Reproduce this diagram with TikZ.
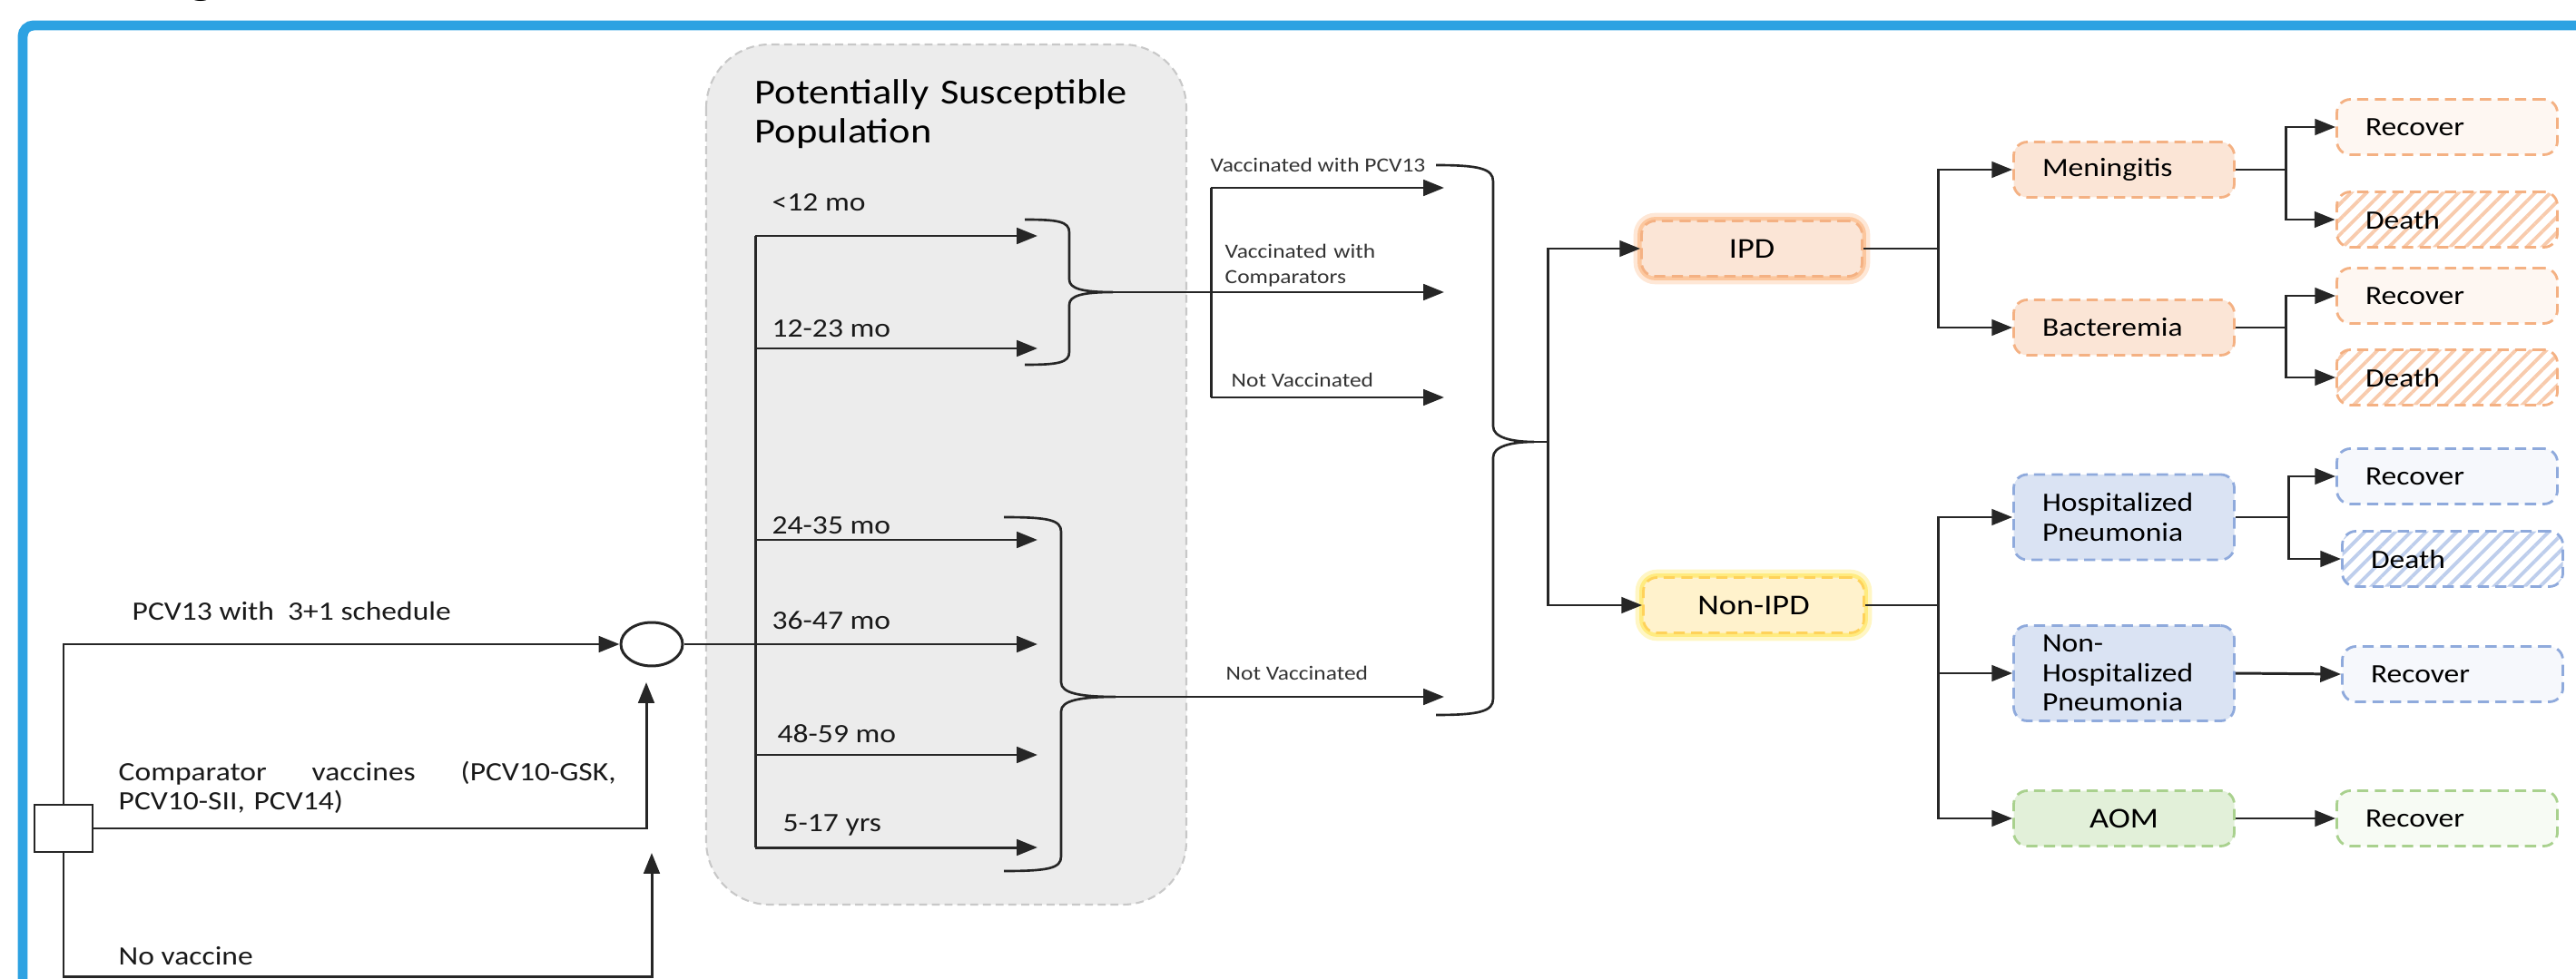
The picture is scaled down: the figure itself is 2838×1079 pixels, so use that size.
\documentclass[tikz,border=0pt]{standalone}
\usepackage{fontspec}
\setmainfont{Carlito}[FakeStretch=1.15]
\usetikzlibrary{arrows.meta,shapes.geometric,patterns.meta}
\definecolor{frameblue}{RGB}{45,162,226}
\definecolor{grayfill}{RGB}{236,236,236}
\definecolor{grayline}{RGB}{200,200,200}
\definecolor{orfill}{RGB}{251,229,214}
\definecolor{orline}{RGB}{244,177,131}
\definecolor{orhatch}{RGB}{248,203,173}
\definecolor{orlight}{RGB}{254,247,242}
\definecolor{orglow}{RGB}{250,160,90}
\definecolor{yefill}{RGB}{255,242,204}
\definecolor{yeline}{RGB}{255,210,90}
\definecolor{yeglow}{RGB}{255,225,60}
\definecolor{blfill}{RGB}{218,227,243}
\definecolor{blline}{RGB}{143,170,220}
\definecolor{blhatch}{RGB}{190,206,236}
\definecolor{bllight}{RGB}{246,248,252}
\definecolor{grfill}{RGB}{226,240,217}
\definecolor{grline}{RGB}{169,209,142}
\definecolor{grlight}{RGB}{247,251,244}
\newcommand\fA{\fontsize{8.3}{9.3}\selectfont}
\newcommand\fT{\fontsize{11}{12.2}\selectfont}
\newcommand\fS{\fontsize{6.3}{7.9}\selectfont}
\newcommand\fB{\fontsize{9}{10.5}\selectfont}
\newcommand\fF{\fontsize{15}{17}\selectfont}
\begin{document}
\begin{tikzpicture}[x=0.1mm,y=-0.1mm,
  ln/.style={draw=black!85, line width=0.85pt},
  arr/.style={ln, -{Triangle[length=6.5pt,width=5pt]}},
  lbl/.style={anchor=base west, inner sep=0pt, font=\fA, text=black!90},
  sml/.style={anchor=base west, inner sep=0pt, font=\fS, text=black!80},
  box/.style={draw, rounded corners=1.5mm, dash pattern=on 3.5pt off 2pt, line width=0.8pt,
    minimum width=24.3mm, minimum height=6.1mm, inner sep=0pt, font=\fA},
  lbox/.style={box, text width=18mm, align=left},
  cbox/.style={box, align=center, font=\fB},
  orbox/.style={fill=orfill, draw=orline},
  blbox/.style={fill=blfill, draw=blline},
  grbox/.style={fill=grfill, draw=grline},
  orglowbox/.style={fill=orfill, draw=orline,
    preaction={draw=orglow, solid, line width=5pt, opacity=0.25},
    preaction={draw=orglow, solid, line width=2.5pt, opacity=0.45}},
  yeglowbox/.style={fill=yefill, draw=yeline,
    preaction={draw=yeglow, solid, line width=5pt, opacity=0.3},
    preaction={draw=yeglow, solid, line width=2.5pt, opacity=0.5}},
  orrec/.style={lbox, fill=orlight, draw=orline},
  ordeath/.style={lbox, draw=orline, pattern={Lines[angle=45,distance=3.4pt,line width=1.1pt]}, pattern color=orhatch},
  blrec/.style={lbox, fill=bllight, draw=blline},
  bldeath/.style={lbox, draw=blline, pattern={Lines[angle=45,distance=3.4pt,line width=1.1pt]}, pattern color=blhatch},
  grrec/.style={lbox, fill=grlight, draw=grline}
]
\useasboundingbox (0,0) rectangle (2838,1079);
\clip (0,0) rectangle (2838,1079);

% partial caption text cut at top
\node[anchor=base west, inner sep=0pt, font=\fF] (cap) at (147,-7) {(Figure 1)};

% blue frame
\draw[frameblue, line width=3.1pt, rounded corners=1.2mm] (25,1300) -- (25,28) -- (3100,28);

% gray population panel
\draw[fill=grayfill, draw=grayline, dash pattern=on 2.5pt off 1.5pt, line width=0.6pt, rounded corners=7mm]
  (778,49) rectangle (1307,997);
\node[anchor=base west, inner sep=0pt, font=\fT, text width=60mm, align=left] (title) at (831,115)
  {Potentially Susceptible\\Population};

% decision and chance nodes
\node[draw=black!85, line width=0.7pt, minimum width=6.4mm, minimum height=5.2mm, inner sep=0pt] (dec) at (70,913) {};
\node[draw=black!85, line width=0.85pt, ellipse, minimum width=6.8mm, minimum height=4.8mm, inner sep=0pt] (chance) at (718,710) {};

\coordinate (cin) at (712,752);
\coordinate (nvc) at (718,1076);
\coordinate (nvtop) at (718,940);

\draw[arr] (dec.north) |- (chance.west);
\draw[arr] (dec.east) -| (cin);
\draw[arr] (dec.south) |- (nvc) -- (nvtop);

\node[lbl] (l1) at (145,683) {PCV13 with \ 3+1 schedule};
\node[lbl, text width=60mm, align=left] (l2) at (130,860)
  {\makebox[54.8mm][l]{Comparator\hfill vaccines\hfill (PCV10-GSK,}\\PCV10-SII, PCV14)};
\node[lbl] (l3) at (130,1063) {No vaccine};

% age trunk
\coordinate (atop) at (832,260);
\coordinate (abot) at (832,934);
\draw[ln] (atop) -- (abot);
\coordinate (a1e) at (1143,260);
\coordinate (a2s) at (832,384);  \coordinate (a2e) at (1143,384);
\coordinate (a3s) at (832,595);  \coordinate (a3e) at (1143,595);
\coordinate (a4e) at (1143,710);
\coordinate (a5s) at (832,832);  \coordinate (a5e) at (1143,832);
\coordinate (a6e) at (1143,934);
\draw[arr] (atop) -- (a1e);
\draw[arr] (a2s) -- (a2e);
\draw[arr] (a3s) -- (a3e);
\draw[arr] (chance.east) -- (a4e);
\draw[arr] (a5s) -- (a5e);
\draw[arr] (abot) -- (a6e);

\node[lbl] (g1) at (850,233) {<12 mo};
\node[lbl] (g2) at (850,372) {12-23 mo};
\node[lbl] (g3) at (850,588) {24-35 mo};
\node[lbl] (g4) at (850,693) {36-47 mo};
\node[lbl] (g5) at (856,818) {48-59 mo};
\node[lbl] (g6) at (862,916) {5-17 yrs};

% brace 1
\coordinate (b1tip) at (1226,322);
\draw[ln, line width=0.75pt] (1129,242) .. controls (1165,242) and (1178,244) .. (1178,256) -- (1178,308)
  .. controls (1178,318) and (1192,322) .. (b1tip)
  .. controls (1192,322) and (1178,326) .. (1178,336) -- (1178,388)
  .. controls (1178,400) and (1165,402) .. (1129,402);
% brace 2
\coordinate (b2tip) at (1229,768);
\draw[ln, line width=0.75pt] (1106,570) .. controls (1155,570) and (1169,573) .. (1169,586) -- (1169,752)
  .. controls (1169,764) and (1190,768) .. (b2tip)
  .. controls (1190,768) and (1169,772) .. (1169,784) -- (1169,944)
  .. controls (1169,957) and (1155,960) .. (1106,960);

% vaccination branch
\coordinate (vtop) at (1334,207);
\coordinate (vbot) at (1334,438);
\coordinate (vpcv) at (1591,207);
\coordinate (vcomp) at (1591,322);
\coordinate (vnv) at (1591,438);
\coordinate (vnv2) at (1591,768);
\draw[ln] (vtop) -- (vbot);
\draw[arr] (vtop) -- (vpcv);
\draw[arr] (b1tip) -- (vcomp);
\draw[arr] (vbot) -- (vnv);
\draw[arr] (b2tip) -- (vnv2);

\node[sml] (s1) at (1333,190) {Vaccinated with PCV13};
\node[sml, text width=40mm, align=left] (s2) at (1349,285) {Vaccinated with\\Comparators};
\node[sml] (s3) at (1356,427) {Not Vaccinated};
\node[sml] (s4) at (1350,749) {Not Vaccinated};

% big brace
\coordinate (bbtip) at (1690,487);
\coordinate (jb) at (1705,487);
\draw[ln, line width=0.75pt] (1582,182) .. controls (1630,182) and (1645,186) .. (1645,200) -- (1645,470)
  .. controls (1645,482) and (1665,487) .. (bbtip)
  .. controls (1665,487) and (1645,492) .. (1645,504) -- (1645,770)
  .. controls (1645,784) and (1630,788) .. (1582,788);
\draw[ln] (bbtip) -- (jb);

% disease nodes
\node[cbox, orglowbox] (ipd) at (1930,274) {IPD};
\node[cbox, yeglowbox] (nonipd) at (1932,667) {Non-IPD};
\draw[arr] (jb) |- (ipd.west);
\draw[arr] (jb) |- (nonipd.west);

\node[lbox, orbox] (men) at (2340,187) {Meningitis};
\node[lbox, orbox] (bac) at (2340,361) {Bacteremia};
\node[lbox, blbox, minimum height=9.4mm] (hosp) at (2340,570) {Hospitalized\\Pneumonia};
\node[lbox, blbox, minimum height=10.5mm] (nhosp) at (2340,742) {Non-\\Hospitalized\\Pneumonia};
\node[cbox, grbox, font=\fB] (aom) at (2340,902) {AOM};

\coordinate (j1) at (2135,274);
\coordinate (j2) at (2135,667);
\draw[ln] (ipd.east) -- (j1);
\draw[arr] (j1) |- (men.west);
\draw[arr] (j1) |- (bac.west);
\draw[ln] (nonipd.east) -- (j2);
\draw[arr] (j2) |- (hosp.west);
\draw[arr] (j2) |- (nhosp.west);
\draw[arr] (j2) |- (aom.west);

% outcomes
\node[orrec] (r1) at (2696,140) {Recover};
\node[ordeath] (d1) at (2696,242) {Death};
\node[orrec] (r2) at (2696,326) {Recover};
\node[ordeath] (d2) at (2696,416) {Death};
\node[blrec] (r3) at (2696,525) {Recover};
\node[bldeath] (d3) at (2702,616) {Death};
\node[blrec] (r4) at (2702,743) {Recover};
\node[grrec] (r5) at (2696,902) {Recover};

\coordinate (k1) at (2518,187);
\coordinate (k2) at (2518,361);
\coordinate (k3) at (2521,570);
\draw[ln] (men.east) -- (k1);
\draw[arr] (k1) |- (r1.west);
\draw[arr] (k1) |- (d1.west);
\draw[ln] (bac.east) -- (k2);
\draw[arr] (k2) |- (r2.west);
\draw[arr] (k2) |- (d2.west);
\draw[ln] (hosp.east) -- (k3);
\draw[arr] (k3) |- (r3.west);
\draw[arr] (k3) |- (d3.west);
\draw[arr] (nhosp.east) -- (r4.west);
\draw[arr] (aom.east) -- (r5.west);
\end{tikzpicture}
\end{document}
